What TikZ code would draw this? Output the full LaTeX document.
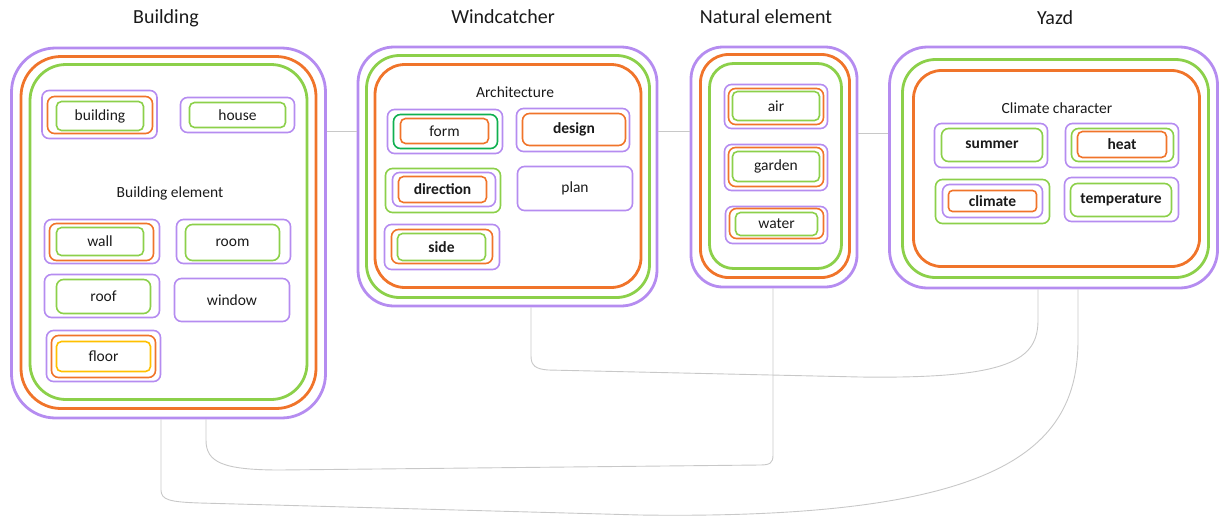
\documentclass[tikz,border=0pt]{standalone}
\usepackage{fontspec}
\setmainfont{Carlito}
\definecolor{cpur}{HTML}{B58CF0}
\definecolor{cora}{HTML}{F0742A}
\definecolor{cgrn}{HTML}{8CD04A}
\definecolor{cyel}{HTML}{FFC000}
\definecolor{cdgr}{HTML}{10B050}
\definecolor{clin}{HTML}{C8C8C8}
\definecolor{ctxt}{HTML}{1A1A1A}
\tikzset{
  panel/.style={draw, line width=2.8pt, inner sep=0pt},
  box/.style={draw, line width=1.6pt, rounded corners=7pt, inner sep=0pt},
  pu/.style={draw=cpur},
  og/.style={draw=cora},
  gr/.style={draw=cgrn},
  ye/.style={draw=cyel},
  dg/.style={draw=cdgr},
  txt/.style={text=ctxt, font=\fontsize{15.5}{17}\selectfont},
  bt/.style={text=ctxt, font=\fontsize{15.5}{17}\selectfont\bfseries},
  ttl/.style={text=ctxt, font=\fontsize{20}{24}\selectfont},
  wire/.style={draw=clin, line width=0.9pt},
}
\begin{document}
\begin{tikzpicture}[x=1pt, y=-1pt]
\useasboundingbox (0,0) rectangle (1220,517);

% titles
\node[ttl] (tB) at (166,18) {Building};
\node[ttl] (tW) at (503,17) {Windcatcher};
\node[ttl] (tN) at (766,17) {Natural element};
\node[ttl] (tY) at (1055,18) {Yazd};

% ---------- Building panel ----------
\node[panel, pu, rounded corners=44pt, minimum width=314pt, minimum height=370pt] (bP) at (168.5,233) {};
\node[panel, og, rounded corners=40pt, minimum width=295pt, minimum height=352pt] (bO) at (168.5,232.5) {};
\node[panel, gr, rounded corners=36pt, minimum width=277pt, minimum height=335pt] (bG) at (168.5,232) {};

\node[box, pu, minimum width=115pt, minimum height=48pt] (b1p) at (99.5,114.5) {};
\node[box, og, minimum width=105pt, minimum height=37pt] (b1o) at (100,115) {};
\node[box, gr, rounded corners=5pt, minimum width=87pt, minimum height=29pt, txt] (b1g) at (100,116) {building};

\node[box, pu, minimum width=114pt, minimum height=35pt] (b2p) at (237.5,115) {};
\node[box, gr, rounded corners=5pt, minimum width=96pt, minimum height=25pt, txt] (b2g) at (237.5,115) {house};

\node[txt] (bEl) at (170,193) {Building element};

\node[box, pu, minimum width=115pt, minimum height=44pt] (b3p) at (102,241.5) {};
\node[box, og, minimum width=104pt, minimum height=37pt] (b3o) at (101.5,242) {};
\node[box, gr, rounded corners=5pt, minimum width=87pt, minimum height=28pt, txt] (b3g) at (100,241.5) {wall};

\node[box, pu, minimum width=114pt, minimum height=44pt] (b4p) at (233.5,241.5) {};
\node[box, gr, minimum width=94pt, minimum height=36pt, txt] (b4g) at (232.5,242.5) {room};

\node[box, pu, minimum width=115pt, minimum height=43pt] (b5p) at (102,296) {};
\node[box, gr, minimum width=94pt, minimum height=34pt, txt] (b5g) at (103.5,296.5) {roof};

\node[box, pu, minimum width=115pt, minimum height=43pt, txt] (b6p) at (232,300) {window};

\node[box, pu, minimum width=114pt, minimum height=51pt] (b7p) at (103.5,356) {};
\node[box, og, minimum width=104pt, minimum height=42pt] (b7o) at (103.5,356.5) {};
\node[box, ye, rounded corners=5pt, minimum width=94pt, minimum height=30pt, txt] (b7y) at (103.5,356.5) {floor};

% ---------- Windcatcher panel ----------
\node[panel, pu, rounded corners=36pt, minimum width=299pt, minimum height=259pt] (wP) at (507.5,176.5) {};
\node[panel, gr, rounded corners=33pt, minimum width=283pt, minimum height=242pt] (wG) at (508,176.5) {};
\node[panel, og, rounded corners=30pt, minimum width=266pt, minimum height=223pt] (wO) at (508,176) {};

\node[txt] (wA) at (515,92) {Architecture};

\node[box, pu, minimum width=115pt, minimum height=44pt] (w1p) at (445,131.5) {};
\node[box, dg, minimum width=104pt, minimum height=34pt] (w1d) at (445.5,131.5) {};
\node[box, og, rounded corners=5pt, minimum width=88pt, minimum height=25pt, txt] (w1o) at (444.5,131) {form};

\node[box, pu, minimum width=113pt, minimum height=43pt] (w2p) at (573,130) {};
\node[box, og, minimum width=103pt, minimum height=32pt, bt] (w2o) at (574,129.5) {design};

\node[box, gr, minimum width=115pt, minimum height=44pt] (w3g) at (443,190.5) {};
\node[box, pu, minimum width=103pt, minimum height=34pt] (w3p) at (444,189.5) {};
\node[box, og, rounded corners=5pt, minimum width=88pt, minimum height=26pt, bt] (w3o) at (442.5,189.5) {direction};

\node[box, pu, minimum width=115pt, minimum height=44pt, txt] (w4p) at (575,188.5) {plan};

\node[box, pu, minimum width=115pt, minimum height=45pt] (w5p) at (442,247) {};
\node[box, og, minimum width=101pt, minimum height=34pt] (w5o) at (442,246.5) {};
\node[box, gr, rounded corners=5pt, minimum width=88pt, minimum height=27pt, bt] (w5g) at (441.5,247) {side};

% ---------- Natural element panel ----------
\node[panel, pu, rounded corners=32pt, minimum width=166pt, minimum height=240pt] (nP) at (774,167) {};
\node[panel, og, rounded corners=28pt, minimum width=149pt, minimum height=223pt] (nO) at (775,166) {};
\node[panel, gr, rounded corners=24pt, minimum width=132pt, minimum height=205pt] (nG) at (775.5,166) {};

\node[box, pu, minimum width=103pt, minimum height=44pt] (n1p) at (776,106.5) {};
\node[box, og, minimum width=95pt, minimum height=36pt] (n1o) at (776,106.5) {};
\node[box, gr, rounded corners=5pt, minimum width=87pt, minimum height=29pt, txt] (n1g) at (776,106) {air};

\node[box, pu, minimum width=103pt, minimum height=46pt] (n2p) at (776,167.5) {};
\node[box, og, minimum width=95pt, minimum height=39pt] (n2o) at (776,167) {};
\node[box, gr, rounded corners=5pt, minimum width=87pt, minimum height=30pt, txt] (n2g) at (776,166.5) {garden};

\node[box, pu, minimum width=102pt, minimum height=37pt] (n3p) at (776.5,225) {};
\node[box, og, minimum width=94pt, minimum height=30pt] (n3o) at (776.5,223.5) {};
\node[box, gr, rounded corners=5pt, minimum width=82pt, minimum height=23pt, txt] (n3g) at (776.5,224) {water};

% ---------- Yazd panel ----------
\node[panel, pu, rounded corners=38pt, minimum width=328pt, minimum height=241pt] (yP) at (1053.5,167.5) {};
\node[panel, gr, rounded corners=33pt, minimum width=306pt, minimum height=218pt] (yG) at (1055.5,168.5) {};
\node[panel, og, rounded corners=28pt, minimum width=286pt, minimum height=196pt] (yO) at (1056.5,168.5) {};

\node[txt] (yC) at (1057,108) {Climate character};

\node[box, pu, minimum width=113pt, minimum height=44pt] (y1p) at (991,145.5) {};
\node[box, gr, minimum width=101pt, minimum height=33pt, bt] (y1g) at (992,145) {summer};

\node[box, pu, minimum width=113pt, minimum height=44pt] (y2p) at (1122,145.5) {};
\node[box, gr, minimum width=102pt, minimum height=33pt] (y2g) at (1122.5,145) {};
\node[box, og, rounded corners=5pt, minimum width=89pt, minimum height=26pt, bt] (y2o) at (1122,144.5) {heat};

\node[box, gr, minimum width=114pt, minimum height=44pt] (y3g) at (992.5,201.5) {};
\node[box, pu, minimum width=100pt, minimum height=33pt] (y3p) at (992.5,201) {};
\node[box, og, rounded corners=4pt, minimum width=88pt, minimum height=21pt, bt] (y3o) at (992.5,201) {climate};

\node[box, pu, minimum width=114pt, minimum height=44pt] (y4p) at (1121.5,199.5) {};
\node[box, gr, minimum width=101pt, minimum height=33pt, bt] (y4g) at (1121,200) {temperature};

% ---------- connectors ----------
\coordinate (h1) at (0,131);
\coordinate (h3) at (0,133);
\draw[wire] (bP.east |- h1) -- (wP.west |- h1);
\draw[wire] (wP.east |- h1) -- (nP.west |- h1);
\draw[wire] (nP.east |- h3) -- (yP.west |- h3);

\coordinate (k1) at (531,0);
\coordinate (k2) at (1038,0);
\coordinate (k3) at (773,0);
\coordinate (k4) at (206,0);
\coordinate (k5) at (161,0);
\coordinate (k6) at (1078,0);

\draw[wire] (wP.south -| k1) -- (531,356) .. controls (531,366) and (536,369) .. (548,370)
  -- (860,377) .. controls (1010,379) and (1038,360) .. (1038,320) -- (yP.south -| k2);
\draw[wire] (bP.south -| k4) -- (206,440) .. controls (206,462) and (222,470) .. (280,470)
  -- (760,465) .. controls (770,465) and (773,463) .. (773,455) -- (nP.south -| k3);
\draw[wire] (bP.south -| k5) -- (161,490) .. controls (161,500) and (170,502) .. (200,503)
  -- (640,515) .. controls (1000,520) and (1078,450) .. (1078,340) -- (yP.south -| k6);
\end{tikzpicture}
\end{document}
